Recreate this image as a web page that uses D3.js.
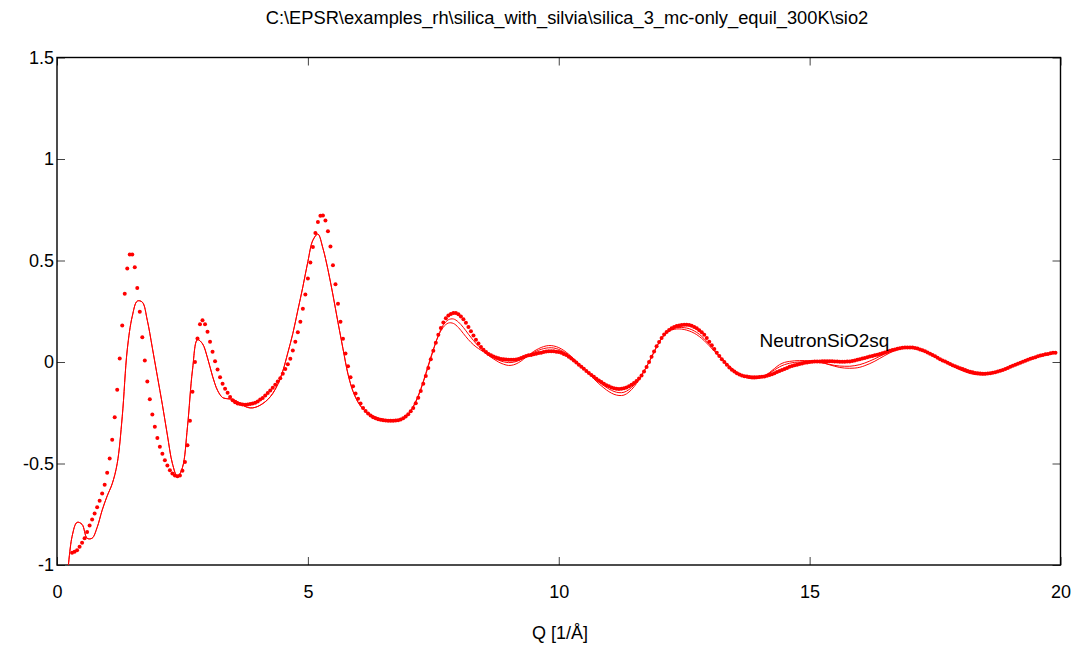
<!DOCTYPE html>
<html>
<head>
<meta charset="utf-8">
<script src="https://cdn.jsdelivr.net/npm/d3@7"></script>
<style>
  body { margin: 0; background: #fff; }
  text { font-family: "Liberation Sans", Arial, sans-serif; fill: #000; }
</style>
</head>
<body>
<div id="chart"></div>
<script>
// data: measured S(Q) points (step 0.05 from Q = 0.3) and two fitted curves (step 0.1 from Q = 0.2)
var dataStart = 0.3, dataStep = 0.05;
var dataValues = [
  -0.940,-0.935,-0.927,-0.910,-0.890,-0.868,-0.838,-0.805,-0.776,-0.746,
  -0.715,-0.684,-0.648,-0.605,-0.546,-0.475,-0.383,-0.272,-0.137,0.017,
  0.180,0.336,0.460,0.530,0.530,0.467,0.365,0.247,0.122,0.007,
  -0.096,-0.183,-0.259,-0.319,-0.374,-0.418,-0.452,-0.484,-0.510,-0.533,
  -0.549,-0.559,-0.563,-0.559,-0.536,-0.492,-0.410,-0.290,-0.147,0.000,
  0.116,0.186,0.206,0.186,0.149,0.100,0.050,0.004,-0.037,-0.075,
  -0.107,-0.132,-0.152,-0.172,-0.188,-0.198,-0.204,-0.207,-0.209,-0.210,
  -0.209,-0.207,-0.205,-0.201,-0.195,-0.185,-0.177,-0.165,-0.153,-0.140,
  -0.127,-0.112,-0.096,-0.080,-0.058,-0.034,-0.011,0.016,0.057,0.100,
  0.147,0.198,0.262,0.333,0.411,0.490,0.567,0.636,0.690,0.720,
  0.722,0.697,0.644,0.569,0.477,0.383,0.287,0.198,0.114,0.042,
  -0.021,-0.075,-0.119,-0.155,-0.181,-0.204,-0.226,-0.241,-0.254,-0.263,
  -0.272,-0.277,-0.282,-0.285,-0.287,-0.288,-0.289,-0.289,-0.289,-0.288,
  -0.287,-0.283,-0.277,-0.268,-0.257,-0.243,-0.226,-0.203,-0.176,-0.143,
  -0.107,-0.069,-0.029,0.013,0.055,0.095,0.134,0.168,0.195,0.215,
  0.229,0.237,0.241,0.241,0.235,0.224,0.211,0.193,0.172,0.151,
  0.131,0.110,0.091,0.074,0.060,0.049,0.040,0.033,0.027,0.022,
  0.018,0.015,0.013,0.012,0.011,0.011,0.011,0.012,0.015,0.020,
  0.025,0.029,0.033,0.035,0.038,0.041,0.044,0.046,0.049,0.052,
  0.053,0.053,0.053,0.051,0.049,0.046,0.040,0.034,0.026,0.017,
  0.008,-0.002,-0.013,-0.023,-0.033,-0.044,-0.054,-0.064,-0.073,-0.082,
  -0.091,-0.099,-0.107,-0.114,-0.120,-0.125,-0.129,-0.132,-0.133,-0.132,
  -0.129,-0.125,-0.119,-0.112,-0.103,-0.093,-0.081,-0.066,-0.047,-0.025,
  0.000,0.026,0.052,0.077,0.099,0.118,0.135,0.148,0.158,0.166,
  0.172,0.177,0.180,0.182,0.183,0.183,0.182,0.178,0.173,0.166,
  0.157,0.147,0.134,0.118,0.100,0.082,0.064,0.046,0.030,0.014,
  0.000,-0.014,-0.027,-0.038,-0.047,-0.055,-0.061,-0.066,-0.070,-0.072,
  -0.074,-0.075,-0.075,-0.075,-0.074,-0.073,-0.071,-0.068,-0.064,-0.060,
  -0.055,-0.049,-0.044,-0.039,-0.034,-0.029,-0.024,-0.020,-0.016,-0.013,
  -0.010,-0.007,-0.004,-0.002,0.000,0.001,0.002,0.003,0.003,0.004,
  0.004,0.004,0.004,0.004,0.003,0.002,0.001,0.001,0.001,0.002,
  0.003,0.005,0.008,0.011,0.014,0.017,0.020,0.023,0.027,0.030,
  0.033,0.036,0.039,0.043,0.047,0.051,0.055,0.059,0.062,0.065,
  0.068,0.070,0.071,0.072,0.072,0.071,0.069,0.066,0.062,0.058,
  0.053,0.047,0.041,0.035,0.028,0.021,0.014,0.008,0.002,-0.004,
  -0.010,-0.016,-0.021,-0.026,-0.031,-0.035,-0.040,-0.044,-0.048,-0.051,
  -0.054,-0.056,-0.057,-0.058,-0.058,-0.057,-0.055,-0.053,-0.050,-0.047,
  -0.043,-0.039,-0.034,-0.029,-0.024,-0.019,-0.014,-0.009,-0.004,0.001,
  0.006,0.011,0.016,0.020,0.024,0.028,0.032,0.035,0.038,0.040,
  0.043,0.045,0.046
];

var fitStart = 0.2, fitStep = 0.1;
var fitValues = [
  -1.08,-0.86,-0.79,-0.80,-0.868,-0.868,-0.815,-0.73,-0.66,-0.60,
  -0.50,-0.27,0.06,0.225,0.30,0.295,0.205,0.07,-0.07,-0.21,
  -0.36,-0.50,-0.565,-0.52,-0.32,-0.04,0.11,0.09,0.02,-0.07,
  -0.14,-0.175,-0.181,-0.184,-0.195,-0.212,-0.224,-0.226,-0.219,-0.205,
  -0.185,-0.155,-0.11,-0.045,0.045,0.14,0.255,0.37,0.495,0.60,
  0.63,0.56,0.455,0.33,0.195,0.065,-0.06,-0.145,-0.198,-0.232,
  -0.253,-0.266,-0.276,-0.282,-0.286,-0.288,-0.287,-0.278,-0.258,-0.218,
  -0.165,-0.095,-0.015,0.062,0.128,0.172,0.192,0.19,0.17,0.14,
  0.11,0.085,0.066,0.05,0.032,0.015,0.0,-0.011,-0.017,-0.014,
  -0.003,0.014,0.034,0.052,0.066,0.076,0.081,0.079,0.071,0.057,
  0.038,0.016,-0.008,-0.033,-0.058,-0.083,-0.107,-0.128,-0.146,-0.159,
  -0.165,-0.163,-0.148,-0.122,-0.088,-0.046,0.0,0.05,0.097,0.132,
  0.152,0.161,0.163,0.16,0.153,0.142,0.126,0.105,0.08,0.053,
  0.026,0.0,-0.024,-0.045,-0.062,-0.074,-0.081,-0.083,-0.079,-0.068,
  -0.052,-0.032,-0.013,-0.002,0.003,0.006,0.007,0.007,0.006,0.004,
  0.0,-0.006,-0.014,-0.021,-0.027,-0.03,-0.031,-0.03,-0.026,-0.018,
  -0.008,0.004,0.018,0.032,0.045,0.056,0.065,0.071,0.073,0.071,
  0.065,0.056,0.044,0.03,0.015,0.0,-0.014,-0.027,-0.039,-0.049,
  -0.057,-0.062,-0.064,-0.063,-0.059,-0.053,-0.045,-0.036,-0.026,-0.016,
  -0.006,0.004,0.013,0.021,0.028,0.034,0.039,0.044
];

var fit2Values = [
  -1.08,-0.86,-0.79,-0.80,-0.868,-0.868,-0.815,-0.73,-0.66,-0.60,
  -0.50,-0.27,0.06,0.225,0.30,0.295,0.205,0.07,-0.07,-0.21,
  -0.36,-0.50,-0.565,-0.52,-0.32,-0.04,0.11,0.09,0.02,-0.07,
  -0.14,-0.175,-0.181,-0.184,-0.195,-0.212,-0.224,-0.226,-0.219,-0.205,
  -0.185,-0.155,-0.11,-0.045,0.045,0.14,0.255,0.37,0.495,0.60,
  0.63,0.56,0.455,0.33,0.195,0.065,-0.06,-0.145,-0.198,-0.232,
  -0.253,-0.266,-0.276,-0.282,-0.286,-0.288,-0.287,-0.278,-0.257,-0.222,
  -0.17,-0.10,-0.022,0.058,0.131,0.183,0.208,0.212,0.197,0.17,
  0.137,0.106,0.078,0.055,0.036,0.021,0.009,0.001,-0.003,-0.001,
  0.007,0.02,0.034,0.047,0.058,0.066,0.07,0.069,0.062,0.05,
  0.033,0.013,-0.01,-0.033,-0.056,-0.078,-0.099,-0.117,-0.133,-0.145,
  -0.151,-0.149,-0.136,-0.113,-0.082,-0.044,0.0,0.05,0.097,0.133,
  0.155,0.166,0.17,0.169,0.164,0.153,0.137,0.114,0.088,0.06,
  0.031,0.004,-0.02,-0.041,-0.057,-0.069,-0.076,-0.078,-0.075,-0.067,
  -0.055,-0.039,-0.024,-0.013,-0.006,-0.002,0.0,0.001,0.001,0.0,
  -0.003,-0.007,-0.012,-0.017,-0.02,-0.021,-0.021,-0.018,-0.013,-0.005,
  0.005,0.016,0.028,0.04,0.051,0.06,0.067,0.071,0.072,0.07,
  0.064,0.055,0.043,0.029,0.014,0.0,-0.013,-0.025,-0.036,-0.046,
  -0.054,-0.059,-0.061,-0.061,-0.057,-0.051,-0.044,-0.035,-0.025,-0.015,
  -0.005,0.005,0.014,0.022,0.029,0.035,0.04,0.045
];

var xTicks = [0, 5, 10, 15, 20];
var yTicks = [-1, -0.5, 0, 0.5, 1, 1.5];
var titleText = "C:\\EPSR\\examples_rh\\silica_with_silvia\\silica_3_mc-only_equil_300K\\sio2";
var xLabel = "Q [1/\u00C5]";
var seriesLabel = "NeutronSiO2sq";

var svgWidth = 1078;
var svgHeight = 645;

var margin = {
  top: 57.5,
  right: 17.5,
  bottom: 80,
  left: 57
};

var width = svgWidth - margin.left - margin.right;
var height = svgHeight - margin.top - margin.bottom;

var svg = d3.select("#chart")
  .append("svg")
  .attr("width", svgWidth)
  .attr("height", svgHeight);

var chartGroup = svg.append("g")
  .attr("transform", `translate(${margin.left}, ${margin.top})`);

var xScale = d3.scaleLinear().domain([0, 20]).range([0, width]);
var yScale = d3.scaleLinear().domain([-1, 1.5]).range([height, 0]);

// build point lists from the value arrays
var dataPoints = dataValues.map((v, i) => ({ q: dataStart + i * dataStep, v: v }));
var fitPoints = fitValues.map((v, i) => ({ q: fitStart + i * fitStep, v: v }));
var fit2Points = fit2Values.map((v, i) => ({ q: fitStart + i * fitStep, v: v }));

svg.append("defs").append("clipPath")
  .attr("id", "plot-clip")
  .append("rect")
  .attr("width", width)
  .attr("height", height);

// axes, ticks pointing inward on all four sides
var fmt = d => String(d);

chartGroup.append("g")
  .attr("transform", `translate(0, ${height})`)
  .call(d3.axisBottom(xScale).tickValues(xTicks).tickSize(-8).tickPadding(20).tickFormat(fmt))
  .call(g => g.select(".domain").remove());

chartGroup.append("g")
  .call(d3.axisLeft(yScale).tickValues(yTicks).tickSize(-8).tickPadding(3).tickFormat(fmt))
  .call(g => g.select(".domain").remove());

chartGroup.append("g")
  .call(d3.axisTop(xScale).tickValues(xTicks).tickSize(-8).tickFormat(""))
  .call(g => g.select(".domain").remove());

chartGroup.append("g")
  .attr("transform", `translate(${width}, 0)`)
  .call(d3.axisRight(yScale).tickValues(yTicks).tickSize(-8).tickFormat(""))
  .call(g => g.select(".domain").remove());

chartGroup.selectAll(".tick line").attr("stroke", "#444");
chartGroup.selectAll(".tick text")
  .attr("font-size", "18px")
  .attr("font-family", "Liberation Sans, Arial, sans-serif")
  .attr("fill", "#000");

// frame
chartGroup.append("rect")
  .attr("width", width)
  .attr("height", height)
  .attr("fill", "none")
  .attr("stroke", "#000")
  .attr("stroke-width", 1.4);

var plotArea = chartGroup.append("g").attr("clip-path", "url(#plot-clip)");

var line = d3.line()
  .x(d => xScale(d.q))
  .y(d => yScale(d.v))
  .curve(d3.curveCatmullRom);

plotArea.append("path")
  .datum(fit2Points)
  .attr("fill", "none")
  .attr("stroke", "#ff0000")
  .attr("stroke-width", 1)
  .attr("d", line);

plotArea.append("path")
  .datum(fitPoints)
  .attr("fill", "none")
  .attr("stroke", "#ff0000")
  .attr("stroke-width", 1)
  .attr("d", line);

plotArea.selectAll("circle")
  .data(dataPoints)
  .enter()
  .append("circle")
  .attr("cx", d => xScale(d.q))
  .attr("cy", d => yScale(d.v))
  .attr("r", 2)
  .attr("fill", "#ff0000");

// series label
chartGroup.append("text")
  .attr("x", xScale(14.0))
  .attr("y", yScale(0.075))
  .attr("font-size", "19px")
  .text(seriesLabel);

// title and x label
svg.append("text")
  .attr("x", 567)
  .attr("y", 24)
  .attr("text-anchor", "middle")
  .attr("font-size", "18.3px")
  .text(titleText);

svg.append("text")
  .attr("x", 560)
  .attr("y", 639)
  .attr("text-anchor", "middle")
  .attr("font-size", "18px")
  .text(xLabel);
</script>
</body>
</html>
